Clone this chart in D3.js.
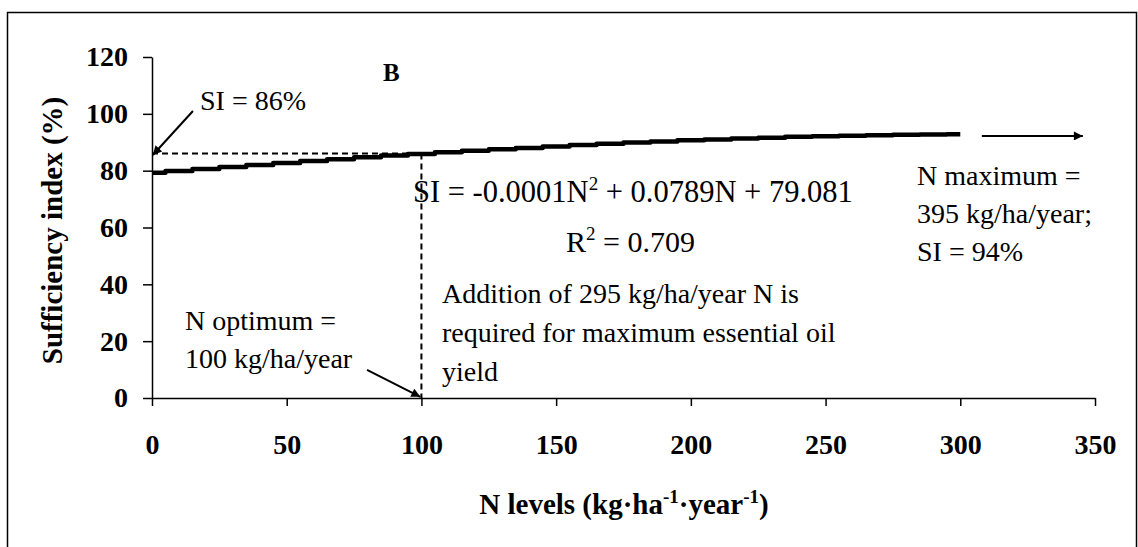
<!DOCTYPE html>
<html>
<head>
<meta charset="utf-8">
<script src="https://cdn.jsdelivr.net/npm/d3@7/dist/d3.min.js"></script>
<style>
  html, body { margin: 0; padding: 0; background: #fff; }
  svg { display: block; }
  text { font-family: "Liberation Serif", "Times New Roman", Times, serif; fill: #000; }
  .tick text { font-size: 28px; font-weight: bold; }
  .axis path, .axis line { stroke: #000; stroke-width: 1.5px; }
</style>
</head>
<body>
<svg id="chart" width="1138" height="547"></svg>
<script>
// Nitrogen level (kg/ha/year) and sufficiency index (%) along the fitted response
const nLevels = [0, 10, 20, 30, 40, 50, 60, 70, 80, 90, 100, 110, 120, 130, 140, 150,
                 160, 170, 180, 190, 200, 210, 220, 230, 240, 250, 260, 270, 280, 290, 300];
const siValues = [79.3, 79.9, 80.6, 81.3, 82.0, 82.7, 83.4, 84.0, 84.7, 85.3, 85.9, 86.5,
                  87.0, 87.5, 88.0, 88.5, 89.0, 89.5, 89.9, 90.3, 90.7, 91.0, 91.3, 91.6,
                  91.9, 92.1, 92.3, 92.5, 92.6, 92.7, 92.8];

const xTicks = [0, 50, 100, 150, 200, 250, 300, 350];
const yTicks = [0, 20, 40, 60, 80, 100, 120];

// Optimum point and arrow towards maximum
const nOptimum = 100;
const siOptimum = 86;
const maxArrowN = [308, 345.5];
const maxArrowSI = 92.2;

const svg = d3.select("#chart");

// outer frame
svg.append("rect")
  .attr("x", 7.5).attr("y", 12.5)
  .attr("width", 1129).attr("height", 560)
  .attr("fill", "none").attr("stroke", "#000").attr("stroke-width", 1.5);

const x = d3.scaleLinear().domain([0, 350]).range([152, 1095]);
const y = d3.scaleLinear().domain([0, 120]).range([398, 57]);

// arrowhead marker
const defs = svg.append("defs");
defs.append("marker")
  .attr("id", "head")
  .attr("viewBox", "0 0 10 10")
  .attr("refX", 10).attr("refY", 5)
  .attr("markerWidth", 11).attr("markerHeight", 9)
  .attr("markerUnits", "userSpaceOnUse")
  .attr("orient", "auto")
  .append("path").attr("d", "M0,0 L10,5 L0,10 Z").attr("fill", "#000");

// axes
svg.append("g").attr("class", "axis")
  .attr("transform", `translate(0,${y(0)})`)
  .call(d3.axisBottom(x).tickValues(xTicks).tickSize(8).tickSizeOuter(0).tickPadding(28))
  .call(g => g.selectAll(".tick text").attr("fill", "#000"));

svg.append("g").attr("class", "axis")
  .attr("transform", `translate(${x(0)},0)`)
  .call(d3.axisLeft(y).tickValues(yTicks).tickSize(9).tickSizeOuter(0).tickPadding(15))
  .call(g => g.selectAll(".tick text").attr("fill", "#000"));

// dashed guide lines at the optimum
svg.append("line")
  .attr("x1", x(0)).attr("x2", x(nOptimum))
  .attr("y1", y(siOptimum)).attr("y2", y(siOptimum))
  .attr("stroke", "#000").attr("stroke-width", 2).attr("stroke-dasharray", "6,4");
svg.append("line")
  .attr("x1", x(nOptimum)).attr("x2", x(nOptimum))
  .attr("y1", y(siOptimum)).attr("y2", y(0))
  .attr("stroke", "#000").attr("stroke-width", 2).attr("stroke-dasharray", "6,4");

// response curve
const pts = nLevels.map((n, i) => [n, siValues[i]]);
svg.append("path")
  .datum(pts)
  .attr("fill", "none")
  .attr("stroke", "#000")
  .attr("stroke-width", 4.5)
  .attr("stroke-linejoin", "round")
  .attr("d", d3.line().curve(d3.curveStep).x(d => x(d[0])).y(d => y(d[1])));

// arrows
function arrow(n1, s1, n2, s2) {
  svg.append("line")
    .attr("x1", x(n1)).attr("y1", y(s1))
    .attr("x2", x(n2)).attr("y2", y(s2))
    .attr("stroke", "#000").attr("stroke-width", 2)
    .attr("marker-end", "url(#head)");
}
arrow(15.2, 101, 0.3, 85.5);
arrow(79.8, 9.9, 99.6, 0.4);
arrow(maxArrowN[0], maxArrowSI, maxArrowN[1], maxArrowSI);

// text helper
function label(px, py, opts = {}) {
  return svg.append("text")
    .attr("x", px).attr("y", py)
    .attr("font-size", opts.size || 28)
    .attr("font-weight", opts.bold ? "bold" : "normal")
    .attr("text-anchor", opts.anchor || "start");
}

label(383, 81, { bold: true, size: 25 }).text("B");
label(200, 110).text("SI = 86%");

// regression equation
const eq = label(413, 202, { size: 30.5 });
eq.append("tspan").text("SI = -0.0001N");
eq.append("tspan").attr("font-size", 19).attr("dy", -12).text("2");
eq.append("tspan").attr("dy", 12).text(" + 0.0789N + 79.081");

const r2 = label(566, 252, { size: 30 });
r2.append("tspan").text("R");
r2.append("tspan").attr("font-size", 19).attr("dy", -12).text("2");
r2.append("tspan").attr("dy", 12).text(" = 0.709");

["N maximum =", "395 kg/ha/year;", "SI = 94%"].forEach((s, i) =>
  label(917, 185 + i * 38).text(s));

["N optimum =", "100 kg/ha/year"].forEach((s, i) =>
  label(185, 330 + i * 38).text(s));

["Addition of 295 kg/ha/year N is", "required for maximum essential oil", "yield"].forEach((s, i) =>
  label(442, 303 + i * 39).text(s));

// axis titles
const xt = label(624, 514, { bold: true, size: 29, anchor: "middle" });
xt.append("tspan").text("N levels (kg·ha");
xt.append("tspan").attr("font-size", 19).attr("dy", -11).text("-1");
xt.append("tspan").attr("dy", 11).text("·year");
xt.append("tspan").attr("font-size", 19).attr("dy", -11).text("-1");
xt.append("tspan").attr("dy", 11).text(")");

svg.append("text")
  .attr("transform", `translate(62,${(y(0) + y(120)) / 2 + 3}) rotate(-90)`)
  .attr("text-anchor", "middle")
  .attr("font-size", 29)
  .attr("font-weight", "bold")
  .text("Sufficiency index (%)");
</script>
</body>
</html>
